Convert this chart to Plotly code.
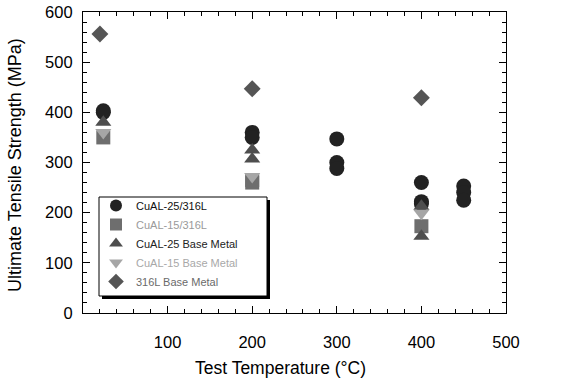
import plotly.graph_objects as go

# Data
cu25_x = [24, 24, 200, 200, 300, 300, 300, 400, 400, 400, 450, 450, 450]
cu25_y = [400, 403, 360, 350, 347, 300, 288, 260, 222, 218, 253, 240, 225]

cu15_x = [24, 200, 200, 400]
cu15_y = [350, 265, 260, 173]

cu25bm_x = [24, 200, 200, 400, 400]
cu25bm_y = [380, 325, 307, 213, 153]

cu15bm_x = [24, 200, 400]
cu15bm_y = [360, 272, 199]

ss_x = [20, 200, 400]
ss_y = [556, 447, 429]

names = ["CuAL-25/316L", "CuAL-15/316L", "CuAL-25 Base Metal", "CuAL-15 Base Metal", "316L Base Metal"]
colors = ["#222222", "#6e6e6e", "#4e4e4e", "#a6a6a6", "#555555"]
text_colors = ["#111111", "#9a9a9a", "#222222", "#a8a8a8", "#6a6a6a"]
symbols = ["circle", "square", "triangle-up", "triangle-down", "diamond"]
sizes = [15, 14, 14, 14, 13]

x_title = "Test Temperature (°C)"
y_title = "Ultimate Tensile Strength (MPa)"

W, H = 562, 384
L, R, T, B = 83, 56, 12, 71
pw, ph = W - L - R, H - T - B
FONT = "Liberation Sans, Arial"

fig = go.Figure()
series = [(cu25_x, cu25_y), (cu15_x, cu15_y), (cu25bm_x, cu25bm_y), (cu15bm_x, cu15bm_y), (ss_x, ss_y)]
for i in range(5):
    x, y = series[i]
    fig.add_trace(go.Scatter(
        x=x, y=y, mode="markers",
        name=f"<span style='color:{text_colors[i]}'>{names[i]}</span>",
        marker=dict(symbol=symbols[i], size=sizes[i], color=colors[i], line=dict(width=0)),
        legendrank=i + 1,
    ))

def px2paper_x(p):
    return (p - L) / pw

def px2paper_y(p):
    return (H - B - p) / ph

# legend shadow + box
fig.add_shape(type="rect", xref="paper", yref="paper",
              x0=px2paper_x(102), x1=px2paper_x(270),
              y0=px2paper_y(299), y1=px2paper_y(200),
              fillcolor="black", line=dict(width=0), layer="above")
fig.add_shape(type="rect", xref="paper", yref="paper",
              x0=px2paper_x(99), x1=px2paper_x(267),
              y0=px2paper_y(296), y1=px2paper_y(197),
              fillcolor="white", line=dict(width=1, color="black"), layer="above")

axis_common = dict(
    showline=True, linecolor="black", linewidth=1.2, mirror="ticks",
    ticks="inside", ticklen=7, tickwidth=1, tickcolor="black",
    showgrid=False, zeroline=False, automargin=False,
    tickfont=dict(family=FONT, size=16.5, color="black"),
    minor=dict(ticks="inside", ticklen=4, tickcolor="black", dtick=20, showgrid=False),
)

fig.update_layout(
    width=W, height=H,
    margin=dict(l=L, r=R, t=T, b=B),
    paper_bgcolor="white", plot_bgcolor="white",
    font=dict(family=FONT, color="black"),
    showlegend=True,
    legend=dict(
        x=px2paper_x(96), y=px2paper_y(191), xanchor="left", yanchor="top",
        bgcolor="rgba(0,0,0,0)", borderwidth=0,
        font=dict(size=11, family=FONT),
        itemsizing="constant", tracegroupgap=0,
    ),
    xaxis=dict(range=[0, 500], tickvals=[100, 200, 300, 400, 500], ticklabelstandoff=14,
               **axis_common),
    yaxis=dict(range=[0, 600], dtick=100, ticklabelstandoff=6,
               **axis_common),
    annotations=[
        dict(text=x_title, xref="paper", yref="paper", x=px2paper_x(280), y=px2paper_y(368),
             showarrow=False, font=dict(size=17.5, family=FONT, color="black"),
             xanchor="center", yanchor="middle"),
        dict(text=y_title, xref="paper", yref="paper", x=px2paper_x(15), y=px2paper_y(165),
             showarrow=False, textangle=-90, font=dict(size=18, family=FONT, color="black"),
             xanchor="center", yanchor="middle"),
    ],
)

fig.write_html("out.html")
